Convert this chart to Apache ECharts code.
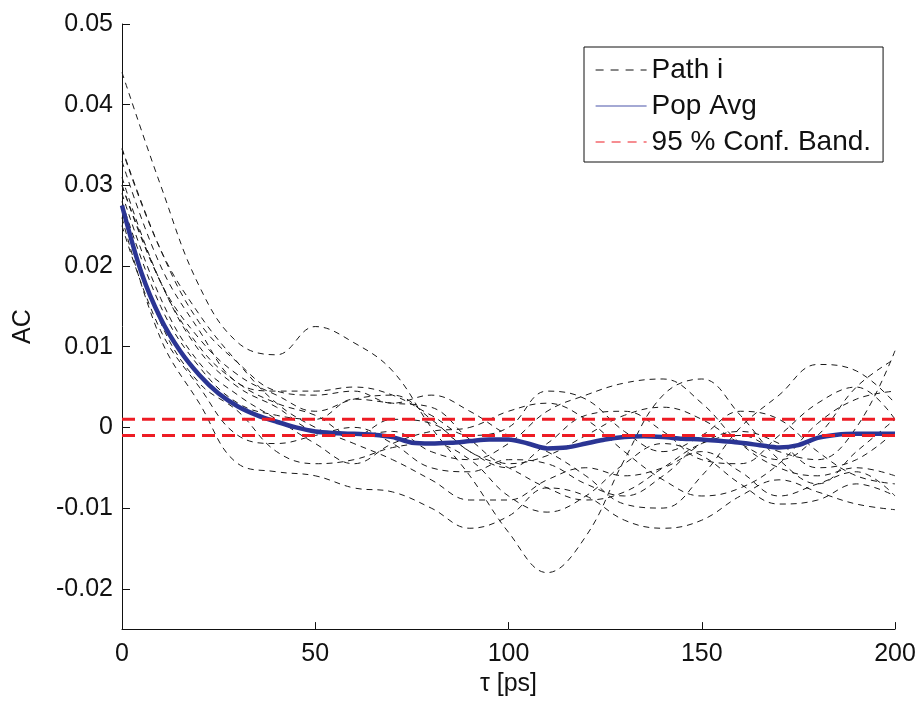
<!DOCTYPE html>
<html>
<head>
<meta charset="utf-8">
<script src="https://cdn.jsdelivr.net/npm/echarts@6/dist/echarts.min.js"></script>
<style>html,body{margin:0;padding:0;background:#fff;}#c{width:924px;height:702px;}</style>
</head>
<body>
<div id="c"></div>
<script>
// lag times for sample paths (ps)
const tPath = [0,10,20,30,40,50,60,70,80,90,100,110,120,130,140,150,160,170,180,190,200];
const path1  = [0.044,0.030,0.0175,0.0105,0.009,0.0125,0.0105,0.007,0.000,-0.006,-0.013,-0.018,-0.0135,-0.004,0.004,0.006,0.0015,-0.004,-0.007,-0.003,0.001];
const path2  = [0.0346,0.022,0.013,0.008,0.0045,0.004,0.0045,0.003,0.004,0.002,-0.001,-0.003,-0.006,-0.0095,-0.010,-0.006,0.000,0.004,0.0078,0.007,0.003];
const path3  = [0.031,0.018,0.010,0.0055,0.003,0.0015,-0.001,-0.0005,-0.003,-0.004,-0.002,0.002,0.004,0.0055,0.006,0.003,-0.002,-0.005,-0.006,-0.005,-0.006];
const path4  = [0.030,0.018,0.011,0.0065,0.004,0.002,0.0035,0.004,0.001,-0.003,-0.005,-0.0075,-0.009,-0.008,-0.005,-0.002,-0.001,-0.003,-0.004,0.000,0.0095];
const path5  = [0.029,0.016,0.008,0.004,0.001,-0.002,-0.0045,-0.002,-0.0005,0.000,0.002,0.003,0.001,-0.003,-0.0065,-0.0085,-0.0075,-0.0045,0.0005,0.0035,0.0045];
const path6  = [0.0275,0.013,0.0055,0.002,-0.003,-0.0045,-0.004,-0.0025,-0.002,-0.004,-0.0085,-0.0105,-0.0085,-0.0045,-0.002,-0.0035,-0.007,-0.0095,-0.009,-0.007,-0.0085];
const path7  = [0.026,0.011,0.003,-0.0045,-0.0055,-0.006,-0.0075,-0.008,-0.010,-0.0125,-0.011,-0.0075,-0.0085,-0.0115,-0.0125,-0.0115,-0.0085,-0.0065,-0.008,-0.0095,-0.0102];
const path8  = [0.033,0.020,0.012,0.0055,0.0045,0.0045,0.005,0.004,0.0015,-0.001,0.000,0.0045,0.0035,-0.0005,-0.003,-0.001,0.002,0.001,-0.003,-0.006,-0.007];
const path9  = [0.028,0.015,0.0075,0.003,0.0015,0.001,0.0035,0.003,0.0025,-0.0015,-0.0045,-0.0035,-0.001,0.0015,0.0025,0.001,-0.002,-0.004,-0.001,0.005,0.0085];
const path10 = [0.025,0.012,0.005,-0.001,-0.002,-0.001,0.000,-0.002,-0.005,-0.0055,-0.004,-0.0045,-0.007,-0.0085,-0.006,-0.002,-0.0005,-0.002,-0.005,-0.004,-0.0005];
const path11 = [0.030,0.018,0.0095,0.005,0.0025,-0.0005,-0.001,0.001,0.0005,-0.003,-0.005,-0.002,0.0015,0.002,-0.0005,-0.004,-0.0045,-0.001,0.003,0.005,0.001];
const path12 = [0.0345,0.022,0.014,0.008,0.003,0.000,-0.002,-0.004,-0.0065,-0.009,-0.009,-0.0065,-0.005,-0.006,-0.005,-0.003,-0.0055,-0.0085,-0.007,-0.0055,-0.0085];
const paths = [path1,path2,path3,path4,path5,path6,path7,path8,path9,path10,path11,path12];

// population average
const tAvg = [0,5,10,15,20,25,30,35,40,45,50,55,60,65,70,75,80,85,90,95,100,105,110,115,120,125,130,135,140,145,150,155,160,165,170,175,180,185,190,195,200];
const popAvg = [0.0275,0.0192,0.0135,0.0095,0.0065,0.0042,0.0026,0.0015,0.0007,0.0000,-0.0005,-0.0007,-0.0008,-0.0009,-0.0012,-0.0019,-0.0020,-0.0019,-0.0017,-0.0015,-0.0015,-0.0020,-0.0026,-0.0025,-0.0020,-0.0015,-0.0012,-0.0011,-0.0012,-0.0014,-0.0015,-0.0017,-0.0019,-0.0022,-0.0025,-0.0022,-0.0013,-0.0009,-0.0008,-0.0008,-0.0008];

// 95% confidence band
const bandT = [0,200];
const bandUpper = [0.001,0.001];
const bandLower = [-0.001,-0.001];

// axis ticks
const yTicks = [-0.02,-0.01,0,0.01,0.02,0.03,0.04,0.05];
const yTickLabels = ['-0.02','-0.01','0','0.01','0.02','0.03','0.04','0.05'];

const zip = (xs, ys) => xs.map((x,i)=>[x, ys[i]]);
const FONT = 'Liberation Sans, Arial, Helvetica, sans-serif';

const series = [];
paths.forEach(p => {
  series.push({
    name: 'Path i', type: 'line', data: zip(tPath, p), smooth: 0.4,
    symbol: 'none', silent: true,
    lineStyle: {color: '#1a1a1a', width: 1, type: [6,5]}
  });
});
series.push({
  name: 'Pop Avg', type: 'line', data: zip(tAvg, popAvg), smooth: 0.3,
  symbol: 'none', lineStyle: {color: '#2b3594', width: 4.5}
});
series.push({
  name: '95 % Conf. Band.', type: 'line', data: zip(bandT, bandUpper),
  symbol: 'none', lineStyle: {color: '#ed1c24', width: 3, type: [13,7]}
});
series.push({
  name: '95 % Conf. Band.', type: 'line', data: zip(bandT, bandLower),
  symbol: 'none', lineStyle: {color: '#ed1c24', width: 3, type: [13,7]}
});

const chart = echarts.init(document.getElementById('c'), null, {renderer: 'canvas'});
chart.setOption({
  animation: false,
  backgroundColor: '#fff',
  grid: {left: 122, right: 29, top: 24, bottom: 69, containLabel: false},
  xAxis: {
    type: 'value', min: 0, max: 200, interval: 50,
    name: 'τ [ps]', nameLocation: 'middle', nameGap: 42,
    nameTextStyle: {color: '#111', fontSize: 25, fontFamily: FONT},
    axisLine: {show: true, onZero: false, lineStyle: {color: '#111', width: 1}},
    axisTick: {show: true, inside: true, length: 7, lineStyle: {color: '#111'}},
    axisLabel: {color: '#111', fontSize: 25, fontFamily: FONT, margin: 13},
    splitLine: {show: false}
  },
  yAxis: {
    type: 'value', min: -0.025, max: 0.05,
    name: 'AC', nameLocation: 'middle', nameGap: 86, nameRotate: 90,
    nameTextStyle: {color: '#111', fontSize: 25, fontFamily: FONT},
    axisLine: {show: true, onZero: false, lineStyle: {color: '#111', width: 1}},
    axisTick: {show: true, inside: true, length: 8, customValues: yTicks, lineStyle: {color: '#111'}},
    axisLabel: {color: '#111', fontSize: 25, fontFamily: FONT, margin: 9, customValues: yTicks,
      formatter: v => { const i = yTicks.findIndex(t => Math.abs(t - v) < 1e-9); return i >= 0 ? yTickLabels[i] : ''; }},
    splitLine: {show: false}
  },
  legend: {
    orient: 'vertical', left: 584, top: 47,
    backgroundColor: '#fff', borderColor: '#111', borderWidth: 1,
    padding: [9, 12, 6, 11], itemGap: 8, itemWidth: 51, itemHeight: 26,
    itemStyle: {color: 'rgba(0,0,0,0)', borderWidth: 0},
    lineStyle: {width: 1},
    textStyle: {color: '#111', fontSize: 28, fontFamily: FONT},
    data: [
      {name: 'Path i', lineStyle: {width: 1, color: '#111', type: [8,7]}},
      {name: 'Pop Avg', lineStyle: {width: 1.2, color: '#4a55aa'}},
      {name: '95 % Conf. Band.', lineStyle: {width: 1.2, color: '#ed1c24', type: [9,7]}}
    ],
    selectedMode: false
  },
  series: series
});
</script>
</body>
</html>
